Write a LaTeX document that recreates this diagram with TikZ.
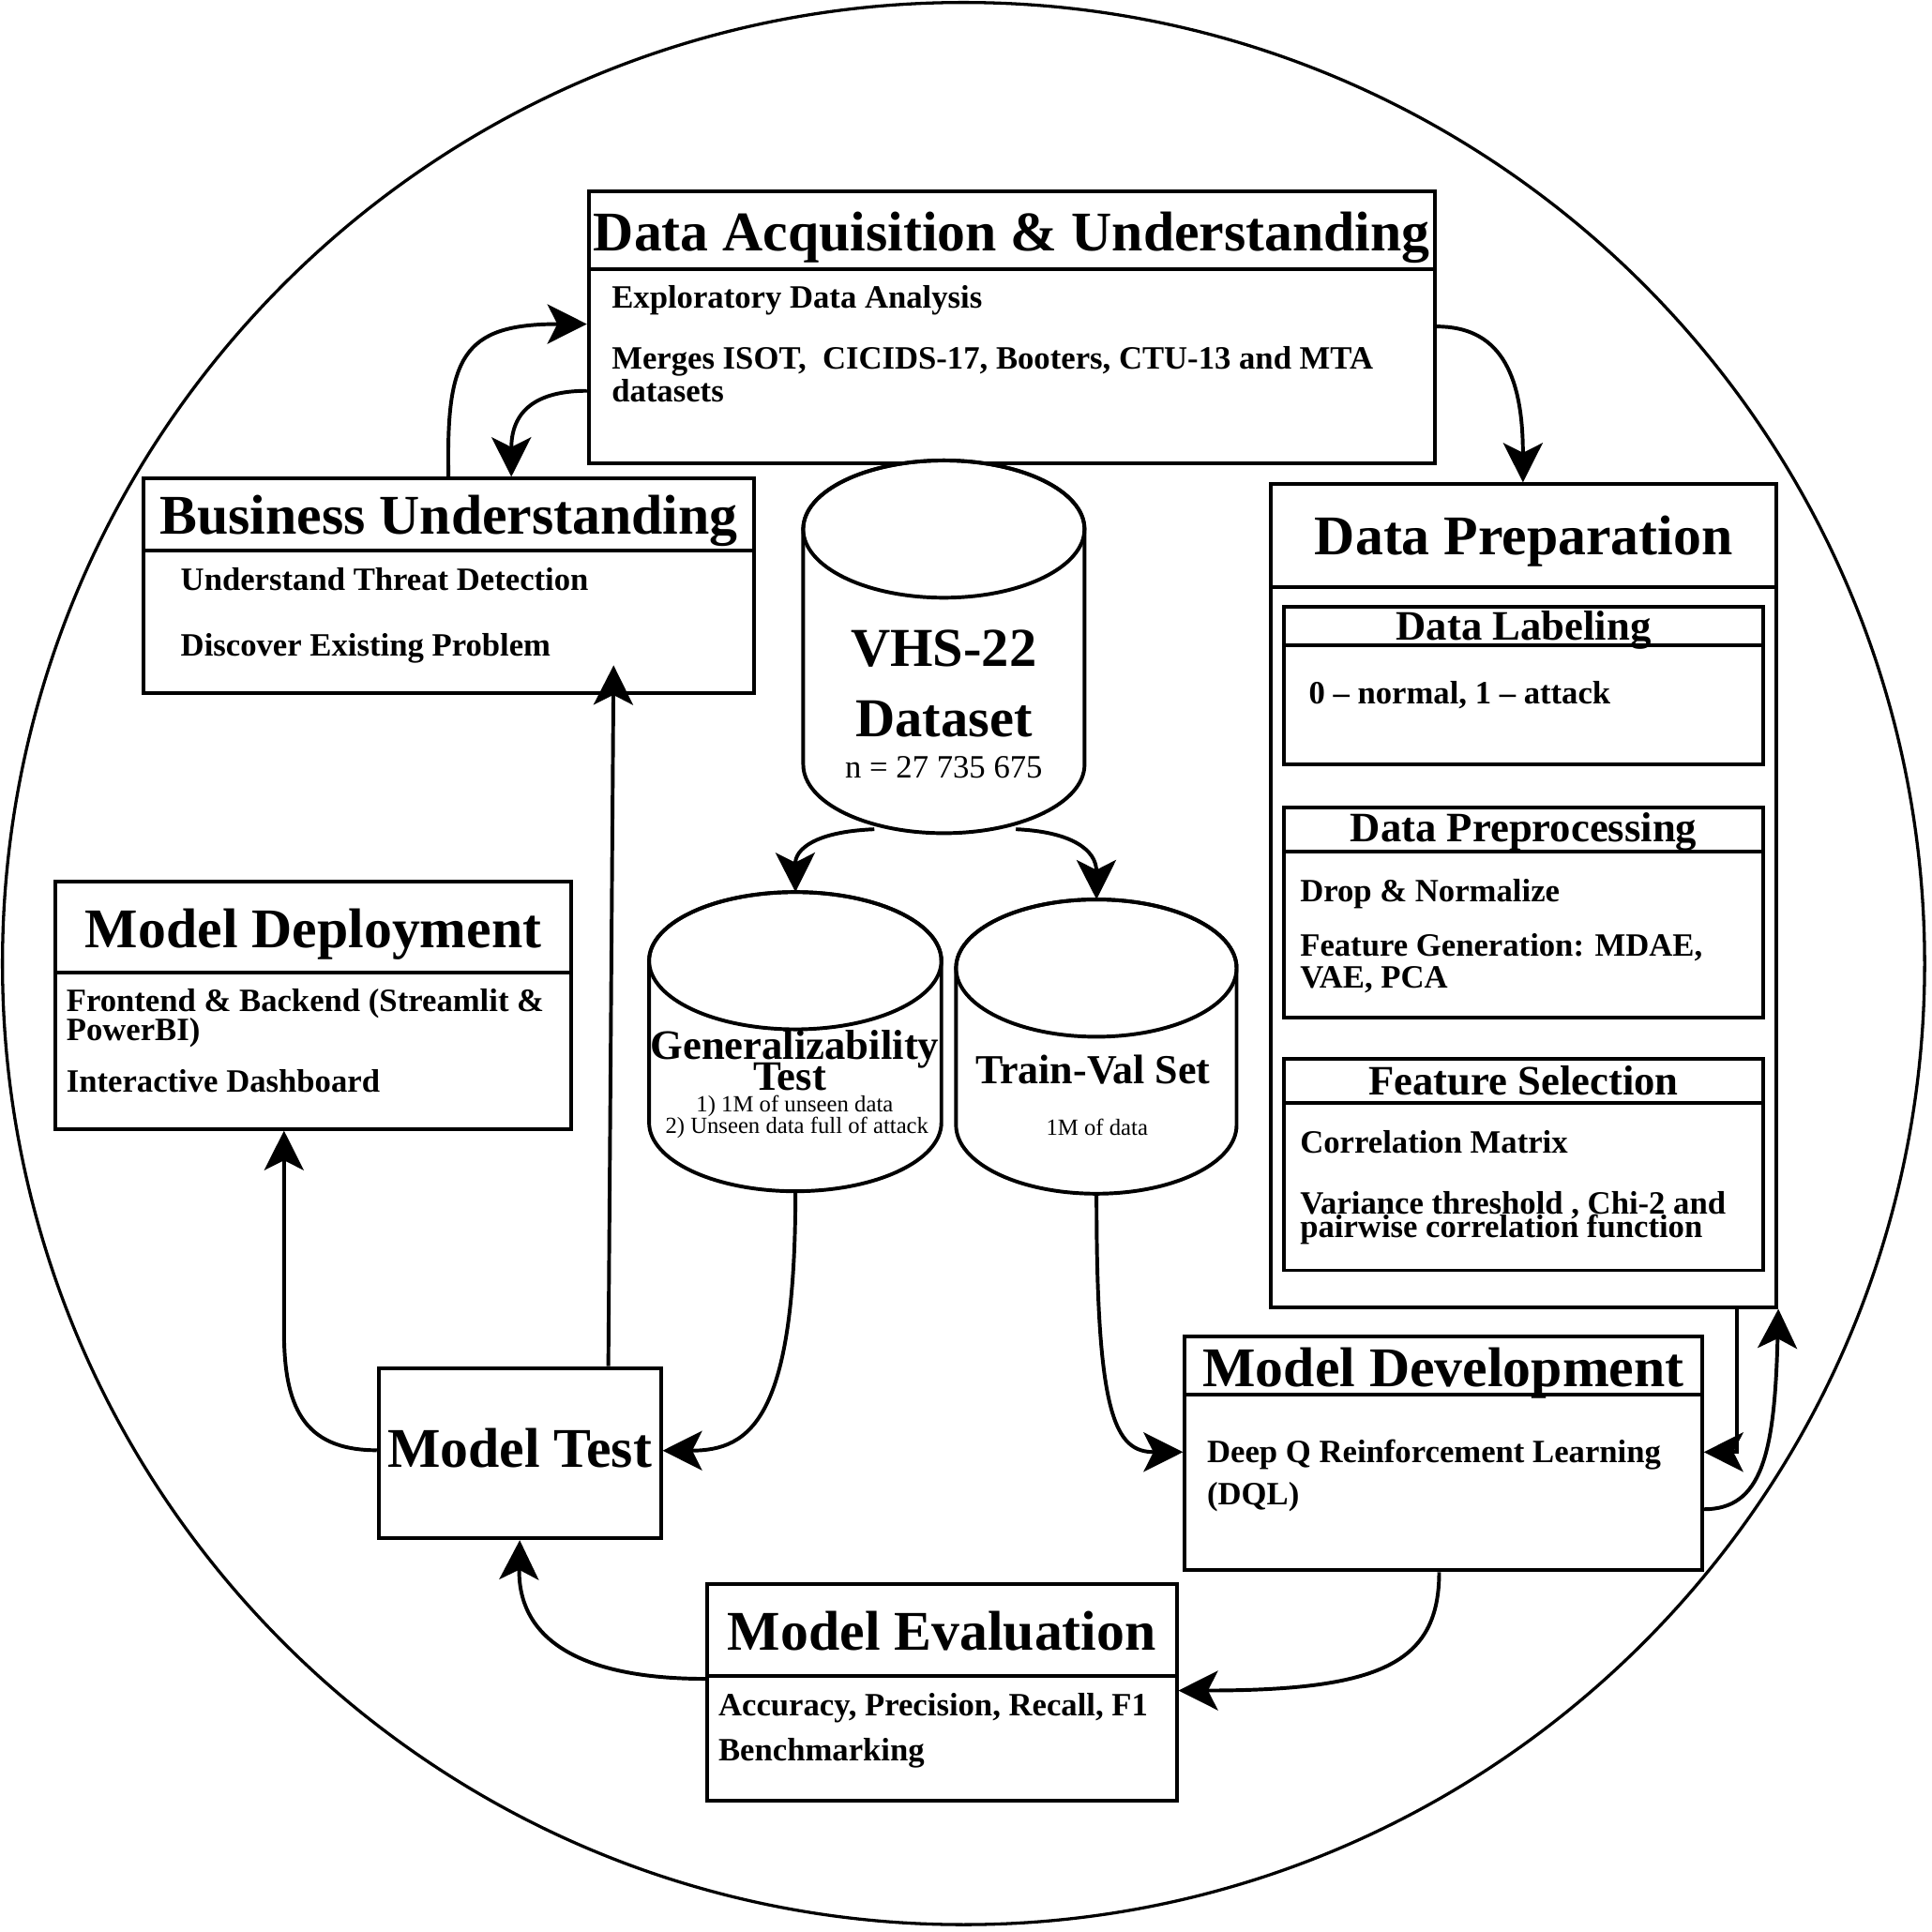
\documentclass[tikz,border=0pt]{standalone}
\usepackage{fontspec}
\setmainfont{Liberation Serif}
\usetikzlibrary{arrows.meta}
\tikzset{
  box/.style={draw, line width=3pt, fill=white, inner sep=0pt, anchor=north west},
  divider/.style={line width=3pt},
  ttl/.style={font=\fontsize{45.5}{50}\selectfont\bfseries, anchor=base, inner sep=0pt},
  subttl/.style={font=\fontsize{34}{36}\selectfont\bfseries, anchor=base, inner sep=0pt},
  body/.style={font=\fontsize{26.4}{28}\selectfont\bfseries, anchor=base west, inner sep=0pt},
  cylbig/.style={font=\fontsize{44.5}{48}\selectfont\bfseries, anchor=base, inner sep=0pt},
  cylreg/.style={font=\fontsize{26.4}{28}\selectfont, anchor=base, inner sep=0pt},
  cylsmall/.style={font=\fontsize{18.8}{20}\selectfont, anchor=base, inner sep=0pt},
  cylline/.style={line width=3pt, fill=white},
  ghost/.style={inner sep=0pt, anchor=north west},
  conn/.style={line width=3pt, -{Stealth[length=32pt,width=32pt,inset=8pt]}},
}
\begin{document}
\begin{tikzpicture}[x=1pt,y=-1pt]
\useasboundingbox (0,0) rectangle (1568,1568);
\draw[line width=2.5pt] (782,782) circle[radius=780];

% ---------- boxes ----------
\node[box, minimum width=686.6pt, minimum height=220.7pt] (dau) at (476.3,153.5) {};
\draw[divider] (dau.west |- 0,218.7) -- (dau.east |- 0,218.7);
\node[ttl] (dauT) at (dau.north |- 0,203.5) {Data Acquisition \& Understanding};
\node[body] (dauB1) at (496.3,249.9) {Exploratory Data Analysis};
\node[body] (dauB2) at (496.3,299.4) {Merges ISOT,\ \ CICIDS-17, Booters, CTU-13 and MTA};
\node[body] (dauB3) at (496.3,326) {datasets};

\node[box, minimum width=495.1pt, minimum height=173.8pt] (bu) at (115.3,386.9) {};
\draw[divider] (bu.west |- 0,447) -- (bu.east |- 0,447);
\node[ttl] (buT) at (bu.north |- 0,433.4) {Business Understanding};
\node[body] (buB1) at (146.5,478.8) {Understand Threat Detection};
\node[body] (buB2) at (146.5,532.3) {Discover Existing Problem};

\node[box, minimum width=410.3pt, minimum height=667.8pt] (dp) at (1030,391.5) {};
\draw[divider] (dp.west |- 0,476.7) -- (dp.east |- 0,476.7);
\node[ttl] (dpT) at (dp.north |- 0,450.5) {Data Preparation};

\node[box, minimum width=389.1pt, minimum height=128pt] (dl) at (1040.5,490.7) {};
\draw[divider] (dl.west |- 0,523.9) -- (dl.east |- 0,523.9);
\node[subttl] (dlT) at (dl.north |- 0,519.5) {Data Labeling};
\node[body] (dlB1) at (1062,571.5) {0 -- normal, 1 -- attack};

\node[box, minimum width=389.1pt, minimum height=170.4pt] (dpp) at (1040.5,653.7) {};
\draw[divider] (dpp.west |- 0,690.8) -- (dpp.east |- 0,690.8);
\node[subttl] (dppT) at (dpp.north |- 0,683.4) {Data Preprocessing};
\node[body] (dppB1) at (1055,731.5) {Drop \& Normalize};
\node[body] (dppB2) at (1055,776) {Feature Generation: MDAE,};
\node[body] (dppB3) at (1055,802) {VAE, PCA};

\node[box, minimum width=389.1pt, minimum height=171.5pt] (fs) at (1040.5,858) {};
\draw[divider] (fs.west |- 0,895.3) -- (fs.east |- 0,895.3);
\node[subttl] (fsT) at (fs.north |- 0,888.7) {Feature Selection};
\node[body] (fsB1) at (1055,935.5) {Correlation Matrix};
\node[body] (fsB2) at (1055,985.2) {Variance threshold , Chi-2 and};
\node[body] (fsB3) at (1055,1004) {pairwise correlation function};

\node[box, minimum width=418.7pt, minimum height=200.5pt] (mdep) at (43.5,714.2) {};
\draw[divider] (mdep.west |- 0,789.6) -- (mdep.east |- 0,789.6);
\node[ttl] (mdepT) at (mdep.north |- 0,768.8) {Model Deployment};
\node[body] (mdepB1) at (53.7,820.8) {Frontend \& Backend (Streamlit \&};
\node[body] (mdepB2) at (53.7,844.4) {PowerBI)};
\node[body] (mdepB3) at (53.7,886.3) {Interactive Dashboard};

\node[box, minimum width=229pt, minimum height=138.3pt] (mt) at (305.8,1108.7) {};
\node[ttl] (mtT) at (mt.north |- 0,1191.2) {Model Test};

\node[box, minimum width=419.7pt, minimum height=190pt] (mdev) at (960.1,1082.9) {};
\draw[divider] (mdev.west |- 0,1132.1) -- (mdev.east |- 0,1132.1);
\node[ttl] (mdevT) at (mdev.north |- 0,1125.2) {Model Development};
\node[body] (mdevB1) at (979.5,1187.4) {Deep Q Reinforcement Learning};
\node[body] (mdevB2) at (979.5,1221.6) {(DQL)};

\node[box, minimum width=381pt, minimum height=176.3pt] (me) at (572.4,1283.8) {};
\draw[divider] (me.west |- 0,1360.4) -- (me.east |- 0,1360.4);
\node[ttl] (meT) at (me.north |- 0,1339.6) {Model Evaluation};
\node[body] (meB1) at (582.9,1392.4) {Accuracy, Precision, Recall, F1};
\node[body] (meB2) at (582.9,1428.9) {Benchmarking};

% ---------- cylinders ----------
\node[ghost, minimum width=228.3pt, minimum height=302.5pt] (vhs) at (651.9,373.7) {};
\draw[cylline] (651.9,429.4) -- (651.9,620.5) arc[start angle=180,end angle=0,x radius=114.15,y radius=55.7]
  -- (880.2,429.4) arc[start angle=0,end angle=-180,x radius=114.15,y radius=55.7] -- cycle;
\draw[line width=3pt] (766,429.4) ellipse[x radius=114.15,y radius=55.7];
\node[cylbig] (vhsT1) at (766,540.9) {VHS-22};
\node[cylbig] (vhsT2) at (766,597.8) {Dataset};
\node[cylreg] (vhsT3) at (766,631.6) {n = 27 735 675};

\node[ghost, minimum width=237.2pt, minimum height=242.8pt] (gen) at (526.8,724) {};
\draw[cylline] (526.8,779.7) -- (526.8,911.1) arc[start angle=180,end angle=0,x radius=118.6,y radius=55.7]
  -- (764,779.7) arc[start angle=0,end angle=-180,x radius=118.6,y radius=55.7] -- cycle;
\draw[line width=3pt] (645.4,779.7) ellipse[x radius=118.6,y radius=55.7];
\node[subttl] (genT1) at (645,860.1) {Generalizability};
\node[subttl] (genT2) at (641,885.2) {Test};
\node[cylsmall] (genT3) at (645,902.3) {1) 1M of unseen data};
\node[cylsmall] (genT4) at (646.8,920.2) {2) Unseen data full of attack};

\node[ghost, minimum width=227.7pt, minimum height=238.8pt] (tv) at (775.9,730) {};
\draw[cylline] (775.9,785.7) -- (775.9,913.1) arc[start angle=180,end angle=0,x radius=113.85,y radius=55.7]
  -- (1003.6,785.7) arc[start angle=0,end angle=-180,x radius=113.85,y radius=55.7] -- cycle;
\draw[line width=3pt] (889.75,785.7) ellipse[x radius=113.85,y radius=55.7];
\node[subttl, font=\fontsize{33.5}{36}\selectfont\bfseries] (tvT1) at (887,879.2) {Train-Val Set};
\node[cylsmall] (tvT2) at (890.4,921) {1M of data};

% ---------- connectors ----------
\draw[conn] (364,0 |- bu.north) .. controls (362,290) and (375,263) .. (dau.west |- 0,263);
\draw[conn] (dau.west |- 0,317.2) .. controls (440,317.2) and (415,330) .. (415,0 |- bu.north);
\draw[conn] (dau.east |- 0,265) .. controls (1215,265) and (1236,300) .. (1236,0 |- dp.north);
\draw[conn] (709.6,673) .. controls (660,675) and (645.4,690) .. (gen.north);
\draw[conn] (824.5,673) .. controls (870,675) and (889.75,690) .. (tv.north);
\draw[conn] (gen.south) .. controls (645.4,1150) and (610,1177.3) .. (mt.east |- 0,1177.3);
\draw[conn] (tv.south) .. controls (889.75,1150) and (905,1178.5) .. (mdev.west |- 0,1178.5);
\draw[conn] (493.7,0 |- mt.north) -- (498,540);
\draw[conn] (mt.west |- 0,1177) .. controls (245,1177) and (230.5,1140) .. (230.5,1080) -- (230.5,0 |- mdep.south);
\draw[conn] (me.west |- 0,1362.5) .. controls (470,1362.5) and (420.3,1330) .. (mt.south);
\draw[conn] (1168,0 |- mdev.south) .. controls (1168,1350) and (1120,1372) .. (me.east |- 0,1372);
\draw[conn] (1409.4,0 |- dp.south) -- (1409.4,1178.5) -- (mdev.east |- 0,1178.5);
\draw[conn] (mdev.east |- 0,1224.9) .. controls (1430,1224.9) and (1440.3,1180) .. (dp.south east);
\end{tikzpicture}
\end{document}
